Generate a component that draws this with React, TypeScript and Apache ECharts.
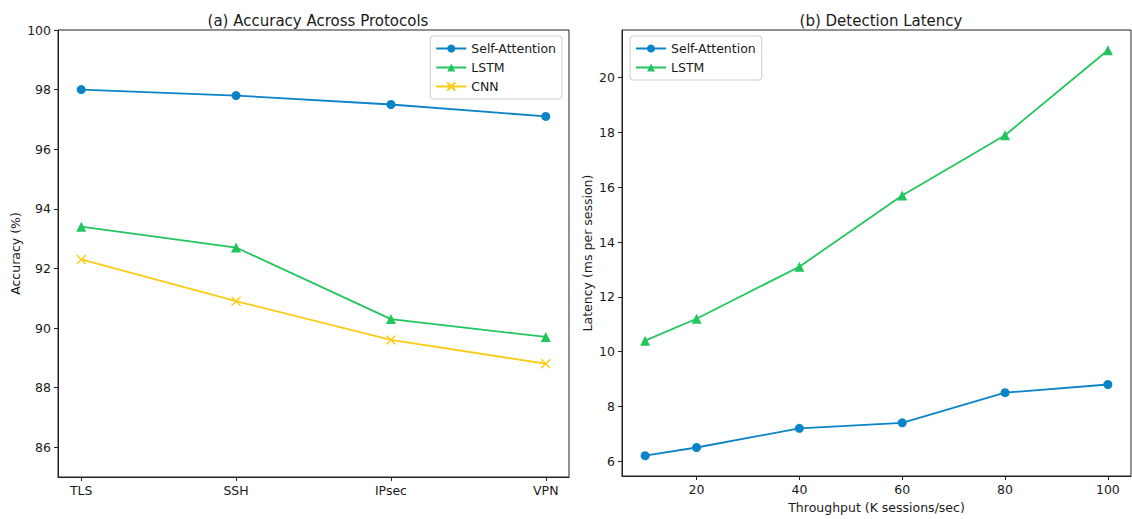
import React, { useEffect, useRef } from "react";
import * as echarts from "echarts";

const protocols = ["TLS", "SSH", "IPsec", "VPN"];
const accSelfAttention = [98.0, 97.8, 97.5, 97.1];
const accLSTM = [93.4, 92.7, 90.3, 89.7];
const accCNN = [92.3, 90.9, 89.6, 88.8];
const accTicks = [86, 88, 90, 92, 94, 96, 98, 100];

const throughput = [10, 20, 40, 60, 80, 100];
const latSelfAttention = [6.2, 6.5, 7.2, 7.4, 8.5, 8.8];
const latLSTM = [10.4, 11.2, 13.1, 15.7, 17.9, 21.0];
const latTicks = [6, 8, 10, 12, 14, 16, 18, 20];
const throughputTicks = [20, 40, 60, 80, 100];

const BLUE = "#0a84c6";
const GREEN = "#22c55e";
const YELLOW = "#facc15";
const FONT = "DejaVu Sans";

export default function App() {
  const ref = useRef<HTMLDivElement>(null);
  useEffect(() => {
    if (!ref.current) return;
    const chart = echarts.init(ref.current, undefined, { renderer: "svg" });
    const axisText = { color: "#1a1a1a", fontFamily: FONT, fontSize: 12.5 };
    const tick = { show: true, inside: false, length: 4, lineStyle: { color: "#222", width: 1 } };
    const axLine = { show: true, onZero: false, lineStyle: { color: "#222", width: 1 } };
    const legendBase = {
      orient: "vertical" as const,
      itemWidth: 30,
      itemHeight: 10,
      itemGap: 6,
      padding: [6, 6, 6, 5],
      borderColor: "#cccccc",
      borderWidth: 1,
      borderRadius: 3,
      backgroundColor: "rgba(255,255,255,0.8)",
      textStyle: { ...axisText },
    };
    const lineSeries = (
      name: string,
      data: number[][],
      color: string,
      symbol: string,
      size: number,
      xi: number
    ) => ({
      type: "line",
      name,
      data,
      xAxisIndex: xi,
      yAxisIndex: xi,
      symbol,
      symbolSize: size,
      showAllSymbol: true,
      lineStyle: { color, width: 1.8 },
      itemStyle: { color, borderWidth: 0 },
      emphasis: { disabled: true },
    });
    const xMarkerPath = "path://M0,0 L10,10 M10,0 L0,10";
    chart.setOption({
      animation: false,
      backgroundColor: "#ffffff",
      title: [
        {
          text: "(a) Accuracy Across Protocols",
          left: 313,
          top: 8,
          textAlign: "center",
          textStyle: { fontFamily: FONT, fontSize: 15, fontWeight: "normal", color: "#1a1a1a" },
        },
        {
          text: "(b) Detection Latency",
          left: 876,
          top: 8,
          textAlign: "center",
          textStyle: { fontFamily: FONT, fontSize: 15, fontWeight: "normal", color: "#1a1a1a" },
        },
      ],
      legend: [
        {
          ...legendBase,
          right: 1132 - 562,
          top: 36,
          data: ["Self-Attention", "LSTM", "CNN"],
          selectedMode: false,
        },
        {
          ...legendBase,
          left: 630,
          top: 36,
          data: ["Self-Attention ", "LSTM "],
          formatter: (n: string) => n.trim(),
          selectedMode: false,
        },
      ],
      grid: [
        { left: 58, top: 30, width: 511, height: 447, show: true, borderColor: "#222", borderWidth: 1, containLabel: false },
        { left: 622, top: 30, width: 509, height: 447, show: true, borderColor: "#222", borderWidth: 1, containLabel: false },
      ],
      xAxis: [
        {
          type: "value",
          gridIndex: 0,
          min: -0.15,
          max: 3.15,
          axisLine: axLine,
          axisTick: { ...tick, customValues: [0, 1, 2, 3] },
          axisLabel: {
            ...axisText,
            customValues: [0, 1, 2, 3],
            margin: 7,
            formatter: (v: number) => protocols[Math.round(v)],
          },
          splitLine: { show: false },
        },
        {
          type: "value",
          gridIndex: 1,
          min: 5.5,
          max: 104.5,
          name: "Throughput (K sessions/sec)",
          nameLocation: "middle",
          nameGap: 25,
          nameTextStyle: { ...axisText },
          axisLine: axLine,
          axisTick: { ...tick, customValues: throughputTicks },
          axisLabel: { ...axisText, customValues: throughputTicks, margin: 7 },
          splitLine: { show: false },
        },
      ],
      yAxis: [
        {
          type: "value",
          gridIndex: 0,
          min: 85,
          max: 100,
          name: "Accuracy (%)",
          nameLocation: "middle",
          nameGap: 36,
          nameTextStyle: { ...axisText },
          axisLine: axLine,
          axisTick: { ...tick, customValues: accTicks },
          axisLabel: { ...axisText, customValues: accTicks, margin: 7 },
          splitLine: { show: false },
        },
        {
          type: "value",
          gridIndex: 1,
          min: 5.46,
          max: 21.74,
          name: "Latency (ms per session)",
          nameLocation: "middle",
          nameGap: 28,
          nameTextStyle: { ...axisText },
          axisLine: axLine,
          axisTick: { ...tick, customValues: latTicks },
          axisLabel: { ...axisText, customValues: latTicks, margin: 7 },
          splitLine: { show: false },
        },
      ],
      series: [
        lineSeries("Self-Attention", accSelfAttention.map((v, i) => [i, v]), BLUE, "circle", 9, 0),
        lineSeries("LSTM", accLSTM.map((v, i) => [i, v]), GREEN, "triangle", 10, 0),
        {
          ...lineSeries("CNN", accCNN.map((v, i) => [i, v]), YELLOW, xMarkerPath, 9, 0),
          itemStyle: { color: "none", borderColor: YELLOW, borderWidth: 1.4 },
        },
        lineSeries("Self-Attention ", throughput.map((x, i) => [x, latSelfAttention[i]]), BLUE, "circle", 9, 1),
        lineSeries("LSTM ", throughput.map((x, i) => [x, latLSTM[i]]), GREEN, "triangle", 10, 1),
      ],
    });
    return () => chart.dispose();
  }, []);
  return (
    <div
      ref={ref}
      style={{ position: "fixed", left: 0, top: 0, width: 1132, height: 519, background: "#fff" }}
    />
  );
}
